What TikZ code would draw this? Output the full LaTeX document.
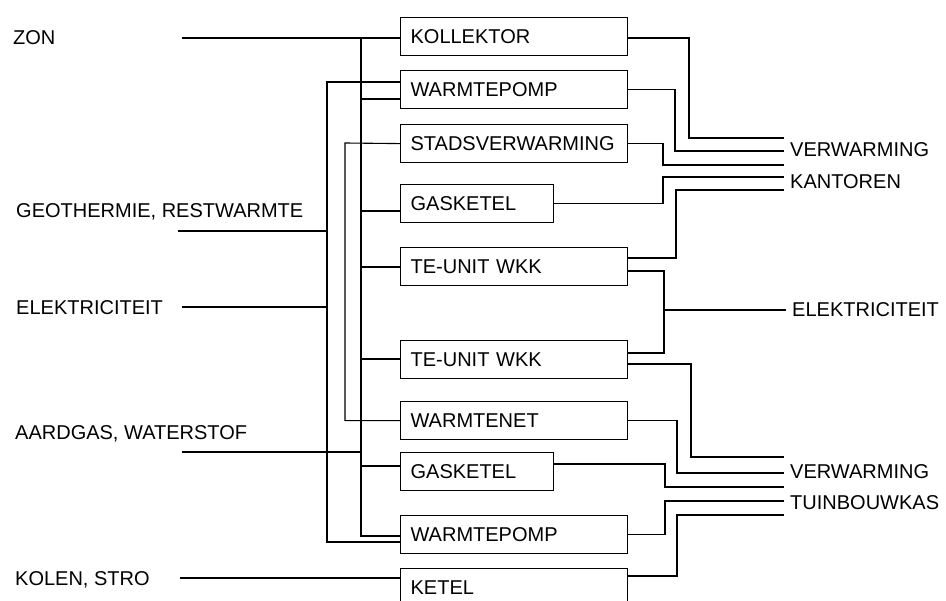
\documentclass[tikz,border=0pt]{standalone}
\usepackage{fontspec}
\setmainfont{Liberation Sans}
\usetikzlibrary{positioning,calc}
\tikzset{
	unit/.style={draw,line width=1.2pt,anchor=north west,inner xsep=10pt,inner ysep=0pt,minimum height=38pt,text width=207pt,align=left},
	shortunit/.style={unit,text width=133pt},
	src/.style={anchor=west,inner sep=0pt},
	sink/.style={anchor=west,inner xsep=6pt,inner ysep=0pt},
	wire/.style={line width=1.1pt}
}
\begin{document}
\begin{tikzpicture}[x=1pt,y=-1pt,font=\fontsize{20}{24}\selectfont]
		
		\useasboundingbox (0,0) rectangle (946,601);
		
		\node[src] (Zon) at (13,38) {ZON};
		\node[src] (Geo) at (16,212) {GEOTHERMIE, RESTWARMTE};
		\node[src] (ElIn) at (16,308) {ELEKTRICITEIT};
		\node[src] (Gas) at (15,434) {AARDGAS, WATERSTOF};
		\node[src] (Kol) at (15,580) {KOLEN, STRO};
		
		\node[unit] (K1) at (400,17) {KOLLEKTOR};
		\node[unit] (P1) at (400,70) {WARMTEPOMP};
		\node[unit] (S1) at (400,124) {STADSVERWARMING};
		\node[shortunit] (G1) at (400,184) {GASKETEL};
		\node[unit] (T1) at (400,247) {TE-UNIT WKK};
		\node[unit] (T2) at (400,340) {TE-UNIT WKK};
		\node[unit] (W1) at (400,401) {WARMTENET};
		\node[shortunit] (G2) at (400,452) {GASKETEL};
		\node[unit] (P2) at (400,515) {WARMTEPOMP};
		\node[unit] (KT) at (400,568) {KETEL};
		
		\node[sink] (V1) at (784,150) {VERWARMING};
		\node[sink] (Kan) at (784,182) {KANTOREN};
		\node[sink] (ElOut) at (786,310) {ELEKTRICITEIT};
		\node[sink] (V2) at (784,472) {VERWARMING};
		\node[sink] (Tb) at (784,503) {TUINBOUWKAS};
		
		\coordinate (zin) at (182,38);
		\coordinate (gin) at (178,231);
		\coordinate (ein) at (182,307);
		\coordinate (ain) at (182,452);
		\coordinate (kin) at (180,578);
		\coordinate (A) at (361,38);
		\coordinate (B) at (327,82);
		\coordinate (C) at (345,143);
		\coordinate (E) at (664,310);
		
		\draw[wire] (zin) -- (K1.west |- zin);
		\draw[wire] (A) |- (P2.west |- 0,536);
		\draw[wire] (A |- 0,99) -- (P1.west |- 0,99);
		\draw[wire] (A |- 0,211) -- (G1.west |- 0,211);
		\draw[wire] (A |- 0,267) -- (T1.west |- 0,267);
		\draw[wire] (A |- 0,359) -- (T2.west |- 0,359);
		\draw[wire] (A |- 0,466) -- (G2.west |- 0,466);
		\draw[wire] (ain) -- (A |- ain);
		\draw[wire] (P1.west |- B) -- (B) |- (P2.west |- 0,542);
		\draw[wire] (gin) -- (B |- gin);
		\draw[wire] (ein) -- (B |- ein);
		\draw[wire] (S1.west) -- (C) |- (W1.west);
		\draw[wire] (kin) -- (KT.west |- kin);
		
		\draw[wire] (K1.east |- 0,38) -| (689,138) -- (V1.west |- 0,138);
		\draw[wire] (P1.east) -| (675,151) -- (V1.west |- 0,151);
		\draw[wire] (S1.east) -| (663,165) -- (V1.west |- 0,165);
		\draw[wire] (G1.east) -| (663,177) -- (Kan.west |- 0,177);
		\draw[wire] (T1.east |- 0,258) -| (676,190) -- (Kan.west |- 0,190);
		\draw[wire] (T1.east |- 0,271) -| (E |- 0,353) -- (T2.east |- 0,353);
		\draw[wire] (E) -- (ElOut.west);
		\draw[wire] (T2.east |- 0,364) -| (691,457) -- (V2.west |- 0,457);
		\draw[wire] (W1.east) -| (677,473) -- (V2.west |- 0,473);
		\draw[wire] (G2.east |- 0,464) -| (665,487) -- (Tb.west |- 0,487);
		\draw[wire] (P2.east) -| (665,501) -- (Tb.west |- 0,501);
		\draw[wire] (KT.east |- 0,576) -| (677,515) -- (Tb.west |- 0,515);
		
	\end{tikzpicture}
\end{document}
